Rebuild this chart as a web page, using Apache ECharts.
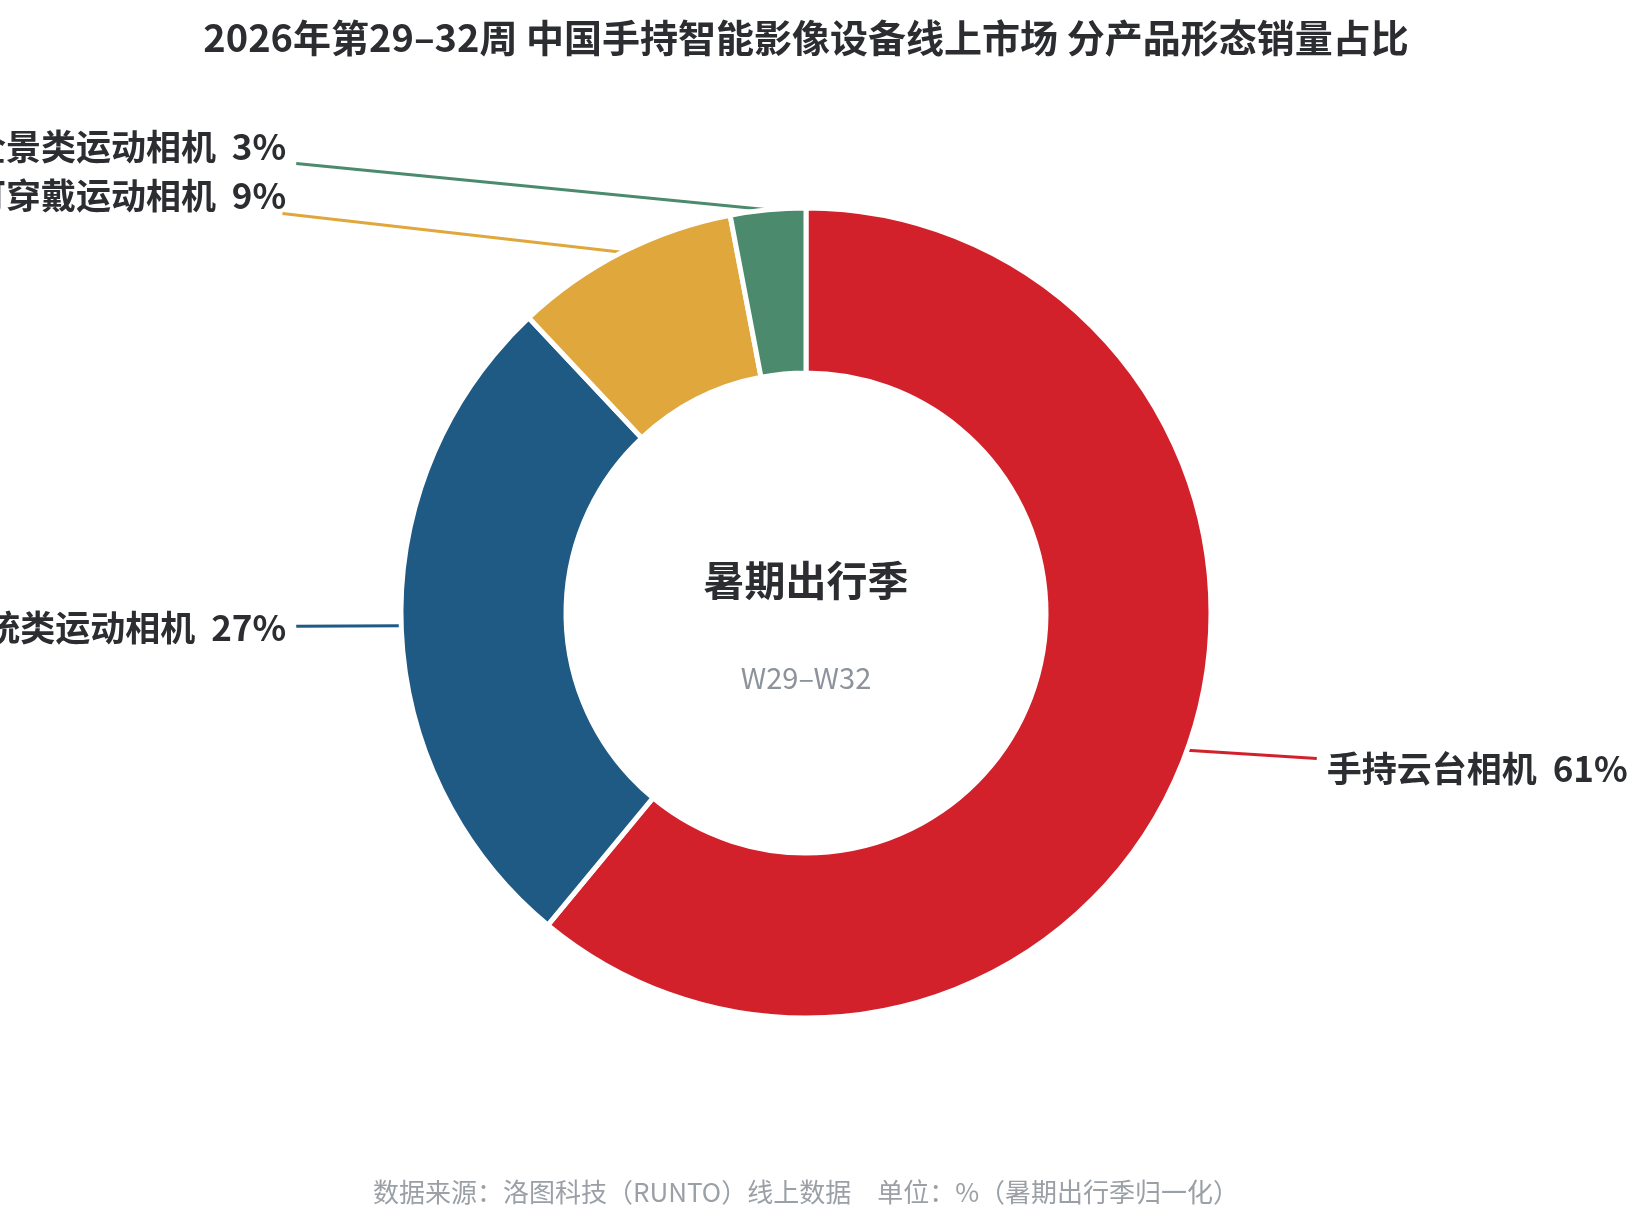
<!DOCTYPE html>
<html>
<head>
<meta charset="utf-8">
<title>分产品形态销量占比</title>
<script src="https://cdn.jsdelivr.net/npm/echarts@6/dist/echarts.min.js"></script>
<style>
  html, body { margin: 0; padding: 0; background: #fff; }
  #main { width: 1633px; height: 1225px; }
</style>
</head>
<body>
<div id="main"></div>
<script>
// 数据
var categories = ['手持云台相机', '传统类运动相机', '可穿戴运动相机', '全景类运动相机'];
var shares = [61, 27, 9, 3];
var colors = ['#d2212a', '#1f5a85', '#dfa73c', '#4b8a6d'];
// 引线长度（右侧略长，左上两项略外推）
var lineLen = [55, 55, 63, 63];
var lineLen2 = [78, 50, 50, 50];

var titleText = '2026年第29–32周 中国手持智能影像设备线上市场 分产品形态销量占比';
var centerTitle = '暑期出行季';
var centerSub = 'W29–W32';
var footText = '数据来源：洛图科技（RUNTO）线上数据　单位：%（暑期出行季归一化）';

var chart = echarts.init(document.getElementById('main'));

var pieData = [];
for (var i = 0; i < categories.length; i++) {
  pieData.push({
    name: categories[i],
    value: shares[i],
    itemStyle: { color: colors[i] },
    labelLine: { length: lineLen[i], length2: lineLen2[i] }
  });
}

var font = '"Noto Sans CJK SC", "Noto Sans", sans-serif';
var cx = 806, cy = 613;

var option = {
  backgroundColor: '#fff',
  graphic: [{
    type: 'text',
    x: cx, y: 38,
    style: {
      text: titleText, fontFamily: font, fontSize: 38, fontWeight: 'bold',
      fill: '#2b2d31', align: 'center', verticalAlign: 'middle'
    }
  }, {
    type: 'text',
    x: cx, y: 1192,
    style: {
      text: footText, fontFamily: font, fontSize: 26,
      fill: '#9aa0a6', align: 'center', verticalAlign: 'middle'
    }
  }, {
    type: 'text',
    x: cx, y: 580,
    style: {
      text: centerTitle, fontFamily: font, fontSize: 41, fontWeight: 'bold',
      fill: '#2b2d31', align: 'center', verticalAlign: 'middle'
    }
  }, {
    type: 'text',
    x: cx, y: 678,
    style: {
      text: centerSub, fontFamily: font, fontSize: 29,
      fill: '#8d939b', align: 'center', verticalAlign: 'middle'
    }
  }],
  series: [{
    type: 'pie',
    center: [cx, cy],
    radius: [240, 405],
    startAngle: 90,
    clockwise: true,
    avoidLabelOverlap: true,
    itemStyle: { borderColor: '#fff', borderWidth: 5 },
    label: {
      show: true,
      formatter: '{b}  {c}%',
      fontFamily: font,
      fontSize: 35,
      fontWeight: 'bold',
      color: '#2b2d31',
      overflow: 'none',
      alignTo: 'labelLine',
      distanceToLabelLine: 10
    },
    labelLine: {
      show: true,
      lineStyle: { width: 3 }
    },
    // 引线：从扇区边缘指向标签中心，在标签框外停住
    labelLayout: function (p) {
      var pts = p.labelLinePoints;
      var r = p.labelRect;
      if (!pts || !r) return {};
      var mx = r.x + r.width / 2, my = r.y + r.height / 2;
      var sx = pts[0][0], sy = pts[0][1];
      var dx = sx - mx, dy = sy - my;
      var hw = r.width / 2 + 10, hh = r.height / 2;
      var t = Math.min(hw / Math.max(Math.abs(dx), 1e-6), hh / Math.max(Math.abs(dy), 1e-6));
      var end = [mx + dx * t, my + dy * t];
      return { labelLinePoints: [pts[0], end, end] };
    },
    emphasis: { disabled: true },
    data: pieData
  }]
};

chart.setOption(option);
</script>
</body>
</html>
